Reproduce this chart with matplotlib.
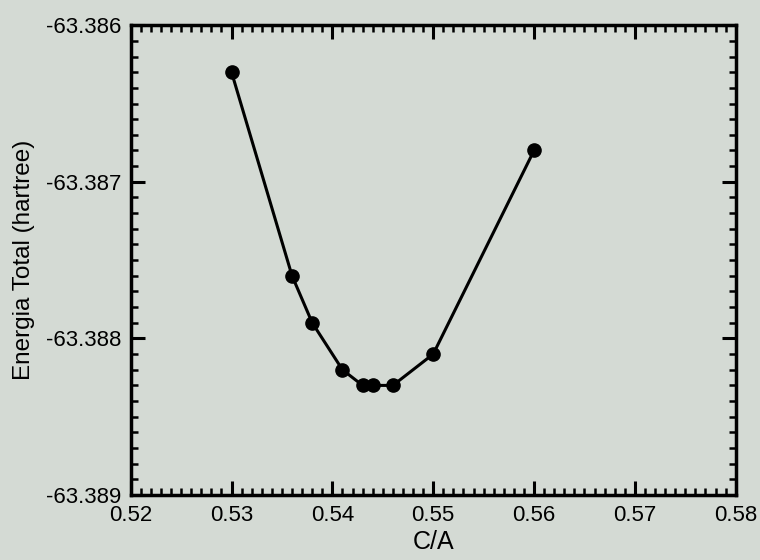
import matplotlib.pyplot as plt
from matplotlib.ticker import MultipleLocator, FormatStrFormatter

# ========== data ==========
ca = [0.530, 0.536, 0.538, 0.541, 0.543, 0.544, 0.546, 0.550, 0.560]
energy = [-63.3863, -63.3876, -63.3879, -63.3882, -63.3883, -63.3883,
          -63.3883, -63.3881, -63.3868]

plt.rcParams['font.family'] = ['Liberation Sans', 'DejaVu Sans']

bg = '#d4dad4'
fig = plt.figure(figsize=(7.6, 5.6), dpi=100, facecolor=bg)
ax = fig.add_axes([0.172, 0.116, 0.796, 0.839], facecolor=bg)

ax.plot(ca, energy, color='black', lw=2.2, marker='o', ms=9.5)

ax.set_xlim(0.52, 0.58)
ax.set_ylim(-63.389, -63.386)
ax.xaxis.set_major_locator(MultipleLocator(0.01))
ax.xaxis.set_minor_locator(MultipleLocator(0.001))
ax.yaxis.set_major_locator(MultipleLocator(0.001))
ax.yaxis.set_minor_locator(MultipleLocator(0.0001))
ax.xaxis.set_major_formatter(FormatStrFormatter('%.2f'))
ax.yaxis.set_major_formatter(FormatStrFormatter('%.3f'))

ax.tick_params(which='both', direction='in', top=True, right=True,
               colors='black', labelsize=16)
ax.tick_params(which='major', length=10, width=2.2)
ax.tick_params(which='minor', length=5, width=1.8)
ax.tick_params(axis='x', which='major', pad=7)
ax.tick_params(axis='y', which='major', pad=7)
for s in ax.spines.values():
    s.set_linewidth(2.5)

ax.set_xlabel('C/A', fontsize=18, labelpad=3)
ax.set_ylabel('Energia Total (hartree)', fontsize=17.5, labelpad=8)

fig.savefig('out.png', dpi=100, facecolor=bg)
